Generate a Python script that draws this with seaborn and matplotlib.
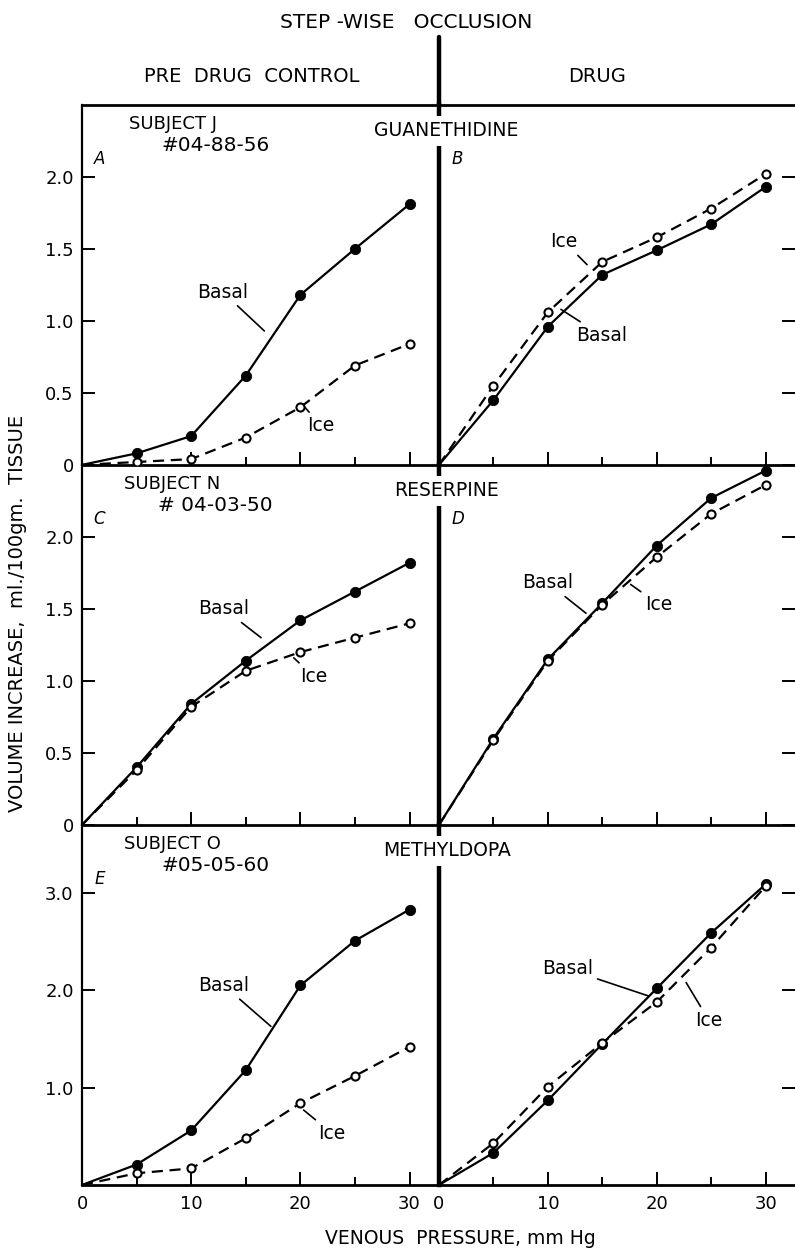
import numpy as np
import pandas as pd
import matplotlib
matplotlib.use("Agg")
import matplotlib.pyplot as plt
from matplotlib.lines import Line2D
import seaborn as sns

# venous pressure steps, mm Hg
pressure = [0, 5, 10, 15, 20, 25, 30]

# volume increase, ml/100 gm tissue
a_basal = [0, 0.08, 0.20, 0.62, 1.18, 1.50, 1.81]
a_ice = [0, 0.02, 0.04, 0.19, 0.40, 0.69, 0.84]
b_basal = [0, 0.45, 0.96, 1.32, 1.49, 1.67, 1.93]
b_ice = [0, 0.55, 1.06, 1.41, 1.58, 1.78, 2.02]
c_basal = [0, 0.40, 0.84, 1.14, 1.42, 1.62, 1.82]
c_ice = [0, 0.38, 0.82, 1.07, 1.20, 1.30, 1.40]
d_basal = [0, 0.60, 1.15, 1.54, 1.94, 2.27, 2.46]
d_ice = [0, 0.59, 1.14, 1.53, 1.86, 2.16, 2.36]
e_basal = [0, 0.21, 0.56, 1.18, 2.05, 2.51, 2.83]
e_ice = [0, 0.12, 0.17, 0.48, 0.84, 1.12, 1.42]
f_basal = [0, 0.33, 0.87, 1.45, 2.02, 2.59, 3.09]
f_ice = [0, 0.43, 1.01, 1.46, 1.88, 2.44, 3.07]

subjects = ["SUBJECT J", "SUBJECT N", "SUBJECT O"]
subject_ids = ["#04-88-56", "# 04-03-50", "#05-05-60"]
drugs = ["GUANETHIDINE", "RESERPINE", "METHYLDOPA"]
letters = [("A", "B"), ("C", "D"), ("E", "")]
ytick_sets = [[0, 0.5, 1.0, 1.5, 2.0], [0, 0.5, 1.0, 1.5, 2.0], [1.0, 2.0, 3.0]]
ytick_labels = [["0", "0.5", "1.0", "1.5", "2.0"], ["0", "0.5", "1.0", "1.5", "2.0"],
                ["1.0", "2.0", "3.0"]]
ymax = [2.5, 2.5, 3.7]

series = [(a_basal, a_ice, b_basal, b_ice),
          (c_basal, c_ice, d_basal, d_ice),
          (e_basal, e_ice, f_basal, f_ice)]

# label text position, leader end (data units) for Basal / Ice in each panel
notes = {
    (0, 0): [("Basal", (12.9, 1.20), (16.7, 0.93)), ("Ice", (21.9, 0.27), (20.3, 0.41))],
    (0, 1): [("Ice", (11.5, 1.55), (13.6, 1.39)), ("Basal", (14.9, 0.90), (11.2, 1.08))],
    (1, 0): [("Basal", (13.0, 1.50), (16.4, 1.30)), ("Ice", (21.2, 1.03), (19.4, 1.16))],
    (1, 1): [("Basal", (10.0, 1.68), (13.5, 1.47)), ("Ice", (20.2, 1.53), (17.6, 1.67))],
    (2, 0): [("Basal", (13.0, 2.05), (17.3, 1.63)), ("Ice", (22.9, 0.53), (20.3, 0.77))],
    (2, 1): [("Basal", (11.8, 2.22), (19.3, 1.94)), ("Ice", (24.8, 1.69), (22.7, 2.08))],
}

sns.set_style("ticks", rc={"axes.edgecolor": "black", "xtick.color": "black",
                           "ytick.color": "black", "text.color": "black",
                           "axes.labelcolor": "black"})
plt.rcParams["font.family"] = ["DejaVu Sans"]

W, H = 795, 1251
fig = plt.figure(figsize=(W / 100, H / 100), dpi=100)

left_x0 = 82 / W
div_x = 439 / W
row_h = 0.2878
bottom0 = 0.0528


def draw_curves(ax, basal, ice):
    df = pd.DataFrame({
        "pressure": pressure * 2,
        "volume": basal + ice,
        "cond": ["Basal"] * len(pressure) + ["Ice"] * len(pressure),
    })
    sns.lineplot(data=df, x="pressure", y="volume", style="cond",
                 dashes={"Basal": "", "Ice": (5, 3)}, color="black",
                 linewidth=1.6, legend=False, ax=ax, zorder=2)
    pts = df[df["pressure"] > 0]
    sns.scatterplot(data=pts[pts["cond"] == "Basal"], x="pressure", y="volume",
                    s=55, color="black", edgecolor="black", ax=ax, zorder=4)
    sns.scatterplot(data=pts[pts["cond"] == "Ice"], x="pressure", y="volume",
                    s=34, color="white", edgecolor="black", linewidth=1.5, ax=ax, zorder=4)


for r in range(3):
    y0 = bottom0 + (2 - r) * row_h
    axl = fig.add_axes([left_x0, y0, div_x - left_x0, row_h])
    axr = fig.add_axes([div_x, y0, 1.0 - div_x, row_h])
    bl, il, br, ir = series[r]
    draw_curves(axl, bl, il)
    draw_curves(axr, br, ir)

    for c, ax in enumerate((axl, axr)):
        ax.patch.set_alpha(0)
        ax.set_xlim(0, 32.7)
        ax.set_ylim(0, ymax[r])
        ax.set_xlabel("")
        ax.set_ylabel("")
        ax.set_xticks([0, 10, 20, 30])
        ax.set_xticks([5, 15, 25], minor=True)
        ax.set_yticks(ytick_sets[r])
        ax.tick_params(axis="x", which="major", direction="in", length=9.5, width=1.4,
                       labelsize=13, pad=7)
        ax.tick_params(axis="x", which="minor", direction="in", length=5.5, width=1.4)
        if r < 2:
            ax.tick_params(axis="x", labelbottom=False)
        else:
            ax.set_xticklabels(["0", "10", "20", "30"])
        ax.spines["bottom"].set_linewidth(2)
        ax.spines["top"].set_linewidth(2)
        ax.spines["top"].set_visible(r == 0)
        for (txt, xyt, xy) in notes[(r, c)]:
            ax.annotate(txt, xy=xy, xytext=xyt, ha="center", va="center",
                        fontsize=13.5,
                        arrowprops=dict(arrowstyle="-", lw=1.2, color="black",
                                        shrinkA=1, shrinkB=0))

    axl.set_yticklabels(ytick_labels[r])
    axl.tick_params(axis="y", direction="in", length=9.5, width=1.4, labelsize=13, pad=6)
    axl.spines["left"].set_linewidth(1.6)
    axl.spines["right"].set_visible(False)

    axr.yaxis.tick_right()
    axr.tick_params(axis="y", direction="in", length=9.5, width=1.4, labelright=False)
    axr.spines["right"].set_visible(False)
    axr.spines["left"].set_linewidth(3.2)

    # subject / panel annotations
    yt = ymax[r]
    axl.text(8.3, yt * 0.948, subjects[r], ha="center", va="center", fontsize=13)
    axl.text(12.2, yt * 0.888, subject_ids[r], ha="center", va="center", fontsize=14.5)
    axl.text(1.6, yt * 0.85, letters[r][0], ha="center", va="center", fontsize=12,
             fontstyle="italic")
    if letters[r][1]:
        axr.text(1.7, yt * 0.85, letters[r][1], ha="center", va="center", fontsize=12,
                 fontstyle="italic")
    axr.text(0.7, yt * 0.928, drugs[r], ha="center", va="center", fontsize=13.5,
             zorder=10, bbox=dict(facecolor="white", edgecolor="none", pad=4))

fig.add_artist(Line2D([div_x, div_x], [1 - 37 / H, bottom0 + 3 * row_h],
                      transform=fig.transFigure, color="black", lw=3.2))

fig.text(406 / W, 1 - 22 / H, "STEP -WISE   OCCLUSION", ha="center", va="center",
         fontsize=14.5)
fig.text(252 / W, 1 - 77 / H, "PRE  DRUG  CONTROL", ha="center", va="center", fontsize=14)
fig.text(597 / W, 1 - 77 / H, "DRUG", ha="center", va="center", fontsize=14)
fig.text(18 / W, 1 - 613 / H, "VOLUME INCREASE,  ml./100gm.  TISSUE", rotation=90,
         ha="center", va="center", fontsize=14)
fig.text(460 / W, 1 - 1238 / H, "VENOUS  PRESSURE, mm Hg", ha="center", va="center",
         fontsize=13.5)

fig.savefig("out.png", dpi=100)
